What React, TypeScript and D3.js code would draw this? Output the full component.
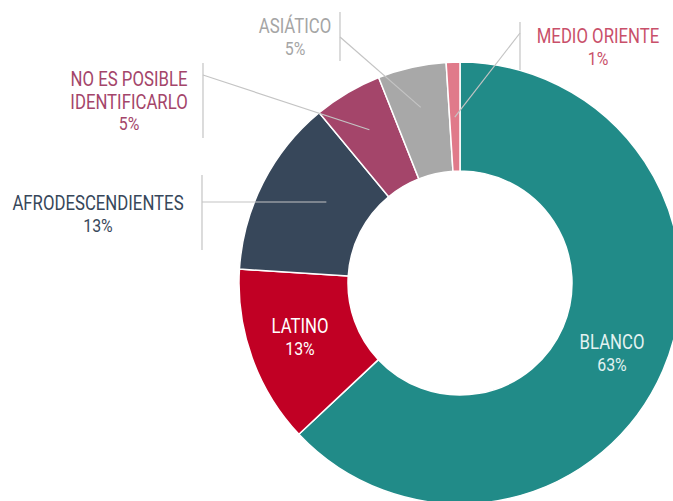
import React, { useRef, useEffect } from 'react';
import * as d3 from 'd3';

const categories = ['BLANCO', 'LATINO', 'AFRODESCENDIENTES', 'NO ES POSIBLE IDENTIFICARLO', 'ASIÁTICO', 'MEDIO ORIENTE'];
const values = [63, 13, 13, 5, 5, 1];
const colors = ['#218b88', '#c10024', '#37475a', '#a4456a', '#a8a8a8', '#e07a8a'];

const WIDTH = 673;
const HEIGHT = 501;
const CX = 460;
const CY = 283;
const OUTER = 221;
const INNER = 112;
const FONT = 'Roboto, "Noto Sans", sans-serif';
const SQUEEZE = 0.86; // the original type is a condensed face

// label layout: inside labels sit on the slice, outside ones get a leader line
const labelLayout: Record<string, any> = {
  'BLANCO': { inside: true, x: 612, y: 349, fill: '#e3f2f1' },
  'LATINO': { inside: true, x: 300, y: 333, fill: '#ffffff' },
  'AFRODESCENDIENTES': { x: 98, y: 210, fill: '#37475a', bar: [202, 175, 250], elbow: 202, endR: 150, horizontal: true },
  'NO ES POSIBLE IDENTIFICARLO': { x: 129, y: 86, lines: ['NO ES POSIBLE', 'IDENTIFICARLO'], fill: '#a4456a', bar: [203, 63, 138], elbow: 75, endR: 178 },
  'ASIÁTICO': { x: 295, y: 33, fill: '#a5a5a5', bar: [340, 12, 61], elbow: 37, endR: 180 },
  'MEDIO ORIENTE': { x: 598, y: 43, fill: '#c9506a', bar: [520, 22, 70], elbow: 33, endR: 166 },
};

const App = () => {
  const svgRef = useRef<SVGSVGElement | null>(null);

  useEffect(() => {
    const svg = d3.select(svgRef.current);
    svg.selectAll('*').remove();

    const data = categories.map((c, i) => ({ name: c, value: values[i], color: colors[i] }));
    const pie = d3.pie<any>().value(d => d.value).sort(null);
    const arcs = pie(data);
    const arcGen = d3.arc<any>().innerRadius(INNER).outerRadius(OUTER);

    const g = svg.append('g').attr('transform', `translate(${CX},${CY})`);

    g.selectAll('path')
      .data(arcs)
      .join('path')
      .attr('d', arcGen)
      .attr('fill', d => d.data.color)
      .attr('stroke', '#ffffff')
      .attr('stroke-width', 1.5);

    // leader lines
    arcs.forEach(a => {
      const lay = labelLayout[a.data.name];
      if (lay.inside) return;
      const mid = (a.startAngle + a.endAngle) / 2;
      const ex = CX + Math.sin(mid) * lay.endR;
      let ey = CY - Math.cos(mid) * lay.endR;
      if (lay.horizontal) ey = lay.elbow;
      const [bx, by0, by1] = lay.bar;
      svg.append('line')
        .attr('x1', bx).attr('x2', bx).attr('y1', by0).attr('y2', by1)
        .attr('stroke', '#c4c4c4').attr('stroke-width', 1.2);
      svg.append('line')
        .attr('x1', bx).attr('y1', lay.elbow).attr('x2', ex).attr('y2', ey)
        .attr('stroke', '#c4c4c4').attr('stroke-width', 1.2);
    });

    // labels
    arcs.forEach(a => {
      const lay = labelLayout[a.data.name];
      const lines = lay.lines || [a.data.name];
      const t = svg.append('text')
        .attr('transform', `translate(${lay.x},${lay.y}) scale(${SQUEEZE},1)`)
        .attr('text-anchor', 'middle')
        .attr('font-family', FONT)
        .attr('font-size', 19.5)
        .attr('fill', lay.fill);
      lines.forEach((l: string, i: number) => {
        t.append('tspan').attr('x', 0).attr('y', i * 23).text(l);
      });
      t.append('tspan')
        .attr('x', 0)
        .attr('y', lines.length * 22)
        .attr('font-size', 18.5)
        .text(`${a.data.value}%`);
    });
  }, []);

  return (
    <svg
      ref={svgRef}
      width={WIDTH}
      height={HEIGHT}
      style={{ position: 'absolute', left: 0, top: 0, background: '#ffffff' }}
    />
  );
};

export default App;
